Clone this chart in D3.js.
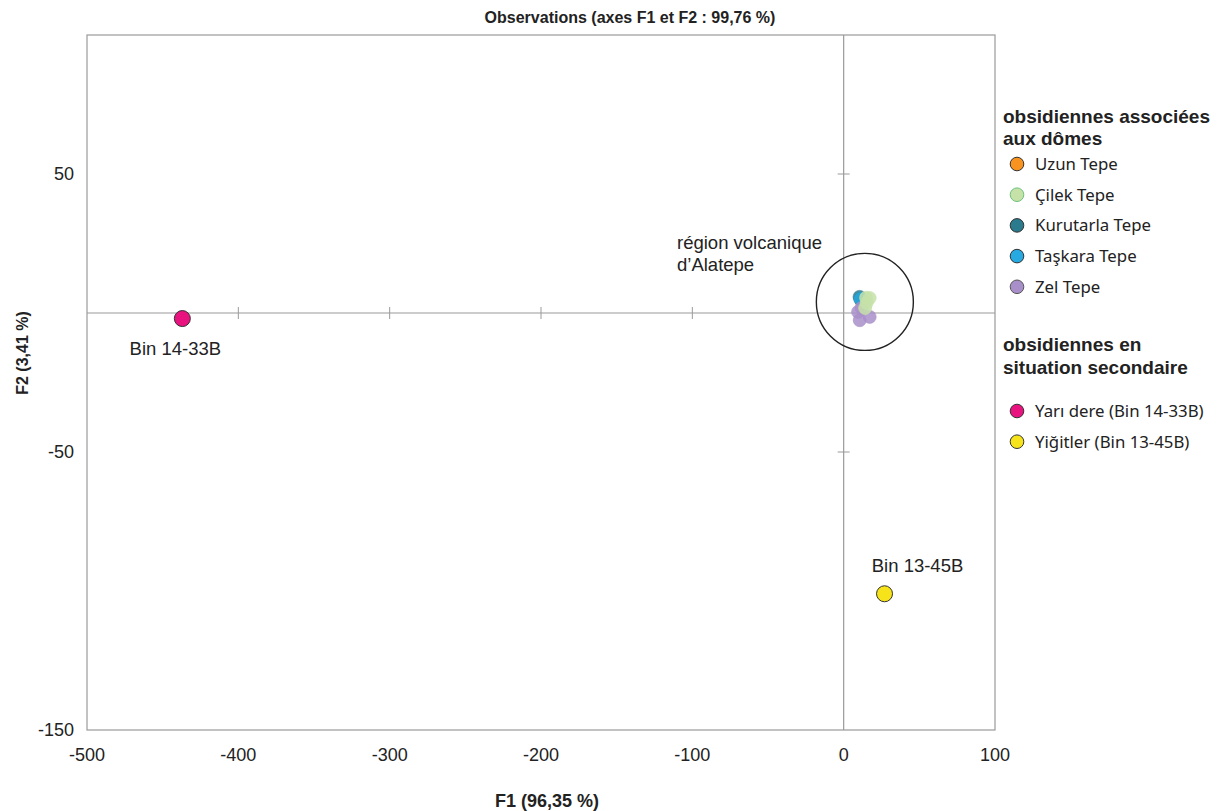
<!DOCTYPE html>
<html><head><meta charset="utf-8">
<script src="https://cdn.jsdelivr.net/npm/d3@7"></script>
<style>body{margin:0;background:#fff}svg{display:block}</style>
</head><body><svg id="c" width="1223" height="811"></svg>
<script>
// ---- data ----
const groups = ["Uzun Tepe","Çilek Tepe","Kurutarla Tepe","Taşkara Tepe","Zel Tepe"];
const groupColors = ["#f7931e","#c6e2a9","#2b7b8f","#27a9e1","#a98fc9"];
const groupStrokes = ["#333","#6cc27a","#333","#333","#555"];
const secondary = ["Yarı dere (Bin 14-33B)","Yiğitler (Bin 13-45B)"];
const secondaryColors = ["#e8137f","#f6e31a"];
// cluster points: F1, F2, group index
const clusterF1 = [12, 11, 10.5, 11.2, 9.5, 11.8, 10.6, 17.2, 15.2, 14.8, 17.2, 14.2];
const clusterF2 = [4, 5, 5.8, 5.0, 0.4, 1.8, -2.6, -1.4, 3.6, 5.5, 5.4, 1.8];
const clusterGroup = [0, 2, 2, 3, 4, 4, 4, 4, 1, 1, 1, 1];
const secF1 = [-437, 27];
const secF2 = [-2, -101];
const secLabels = ["Bin 14-33B","Bin 13-45B"];
const xTicks = [-500,-400,-300,-200,-100,0,100];
const yTickLabels = [50,-50,-150];
const yTicksOnAxis = [50,-50];
const xTicksOnAxis = [-400,-300,-200,-100];

const svg = d3.select("#c");
const x = d3.scaleLinear().domain([-500,100]).range([87,995]);
const y = d3.scaleLinear().domain([-150,100]).range([730,35]);
const axisCol = "#9a9a9a";

// frame
svg.append("rect").attr("x",x(-500)).attr("y",y(100)).attr("width",x(100)-x(-500)).attr("height",y(-150)-y(100))
  .attr("fill","none").attr("stroke",axisCol).attr("stroke-width",1.2);
// zero lines
svg.append("line").attr("x1",x(-500)).attr("x2",x(100)).attr("y1",y(0)).attr("y2",y(0)).attr("stroke",axisCol).attr("stroke-width",1.2);
svg.append("line").attr("x1",x(0)).attr("x2",x(0)).attr("y1",y(100)).attr("y2",y(-150)).attr("stroke",axisCol).attr("stroke-width",1.2);
// ticks on zero lines
svg.selectAll(".xt").data(xTicksOnAxis).enter().append("line")
  .attr("x1",d=>x(d)).attr("x2",d=>x(d)).attr("y1",y(0)-6).attr("y2",y(0)+6).attr("stroke",axisCol);
svg.selectAll(".yt").data(yTicksOnAxis).enter().append("line")
  .attr("x1",x(0)-6).attr("x2",x(0)+6).attr("y1",d=>y(d)).attr("y2",d=>y(d)).attr("stroke",axisCol);

const font = "Liberation Sans, Arial, sans-serif";
// tick labels
svg.selectAll(".xl").data(xTicks).enter().append("text")
  .attr("x",d=>x(d)).attr("y",761).attr("text-anchor","middle")
  .attr("font-family",font).attr("font-size",18).attr("fill","#222").text(d=>d);
svg.selectAll(".yl").data(yTickLabels).enter().append("text")
  .attr("x",74).attr("y",d=>y(d)+6).attr("text-anchor","end")
  .attr("font-family",font).attr("font-size",18).attr("fill","#222").text(d=>d);

// titles
svg.append("text").attr("x",630).attr("y",23).attr("text-anchor","middle").attr("font-family",font)
  .attr("font-weight","bold").attr("font-size",16).attr("fill","#222").text("Observations (axes F1 et F2 : 99,76 %)");
svg.append("text").attr("x",547).attr("y",807).attr("text-anchor","middle").attr("font-family",font)
  .attr("font-weight","bold").attr("font-size",18).attr("fill","#222").text("F1 (96,35 %)");
svg.append("text").attr("transform","translate(28,353) rotate(-90)").attr("text-anchor","middle").attr("font-family",font)
  .attr("font-weight","bold").attr("font-size",16).attr("fill","#222").text("F2 (3,41 %)");

// cluster
svg.append("g").selectAll("circle").data(clusterF1.map((v,i)=>i)).enter().append("circle")
  .attr("cx",i=>x(clusterF1[i])).attr("cy",i=>y(clusterF2[i])).attr("r",6.5)
  .attr("fill",i=>groupColors[clusterGroup[i]]).attr("fill-opacity",0.85)
  .attr("stroke",i=>groupColors[clusterGroup[i]]).attr("stroke-width",0.6);

// region circle
svg.append("circle").attr("cx",x(14)).attr("cy",y(4)).attr("r",48.5)
  .attr("fill","none").attr("stroke","#222").attr("stroke-width",1.4);
svg.append("text").attr("x",677).attr("y",249).attr("font-family",font).attr("font-size",18.5).attr("fill","#222").text("région volcanique");
svg.append("text").attr("x",677).attr("y",271).attr("font-family",font).attr("font-size",18.5).attr("fill","#222").text("d’Alatepe");

// secondary points
svg.append("g").selectAll("circle").data(secF1.map((v,i)=>i)).enter().append("circle")
  .attr("cx",i=>x(secF1[i])).attr("cy",i=>y(secF2[i])).attr("r",8)
  .attr("fill",i=>secondaryColors[i]).attr("stroke","#333").attr("stroke-width",1);
const secLabelDx = [-7, 33];
const secLabelDy = [36, -22];
svg.append("g").selectAll("text").data(secF1.map((v,i)=>i)).enter().append("text")
  .attr("x",i=>x(secF1[i])+secLabelDx[i]).attr("y",i=>y(secF2[i])+secLabelDy[i]).attr("text-anchor","middle")
  .attr("font-family",font).attr("font-size",18.5).attr("fill","#222").text(i=>secLabels[i]);

// legend
const lf = "Noto Sans, Open Sans, sans-serif";
const lg = svg.append("g");
lg.append("text").attr("x",1003).attr("y",123).attr("font-family",font).attr("font-weight","bold").attr("font-size",19).attr("fill","#222").text("obsidiennes associées");
lg.append("text").attr("x",1003).attr("y",145).attr("font-family",font).attr("font-weight","bold").attr("font-size",19).attr("fill","#222").text("aux dômes");
groups.forEach((g,i)=>{
  const yy = 164 + i*30.7;
  lg.append("circle").attr("cx",1017).attr("cy",yy).attr("r",6.8).attr("fill",groupColors[i]).attr("stroke",groupStrokes[i]).attr("stroke-width",1);
  lg.append("text").attr("x",1035).attr("y",yy+6).attr("font-family",lf).attr("font-size",16.8).attr("fill","#222").text(g);
});
lg.append("text").attr("x",1003).attr("y",351).attr("font-family",font).attr("font-weight","bold").attr("font-size",19).attr("fill","#222").text("obsidiennes en");
lg.append("text").attr("x",1003).attr("y",374).attr("font-family",font).attr("font-weight","bold").attr("font-size",19).attr("fill","#222").text("situation secondaire");
secondary.forEach((g,i)=>{
  const yy = 411 + i*30.7;
  lg.append("circle").attr("cx",1017).attr("cy",yy).attr("r",6.8).attr("fill",secondaryColors[i]).attr("stroke","#333").attr("stroke-width",1);
  lg.append("text").attr("x",1035).attr("y",yy+6).attr("font-family",lf).attr("font-size",16.8).attr("fill","#222").text(g);
});
</script></body></html>
